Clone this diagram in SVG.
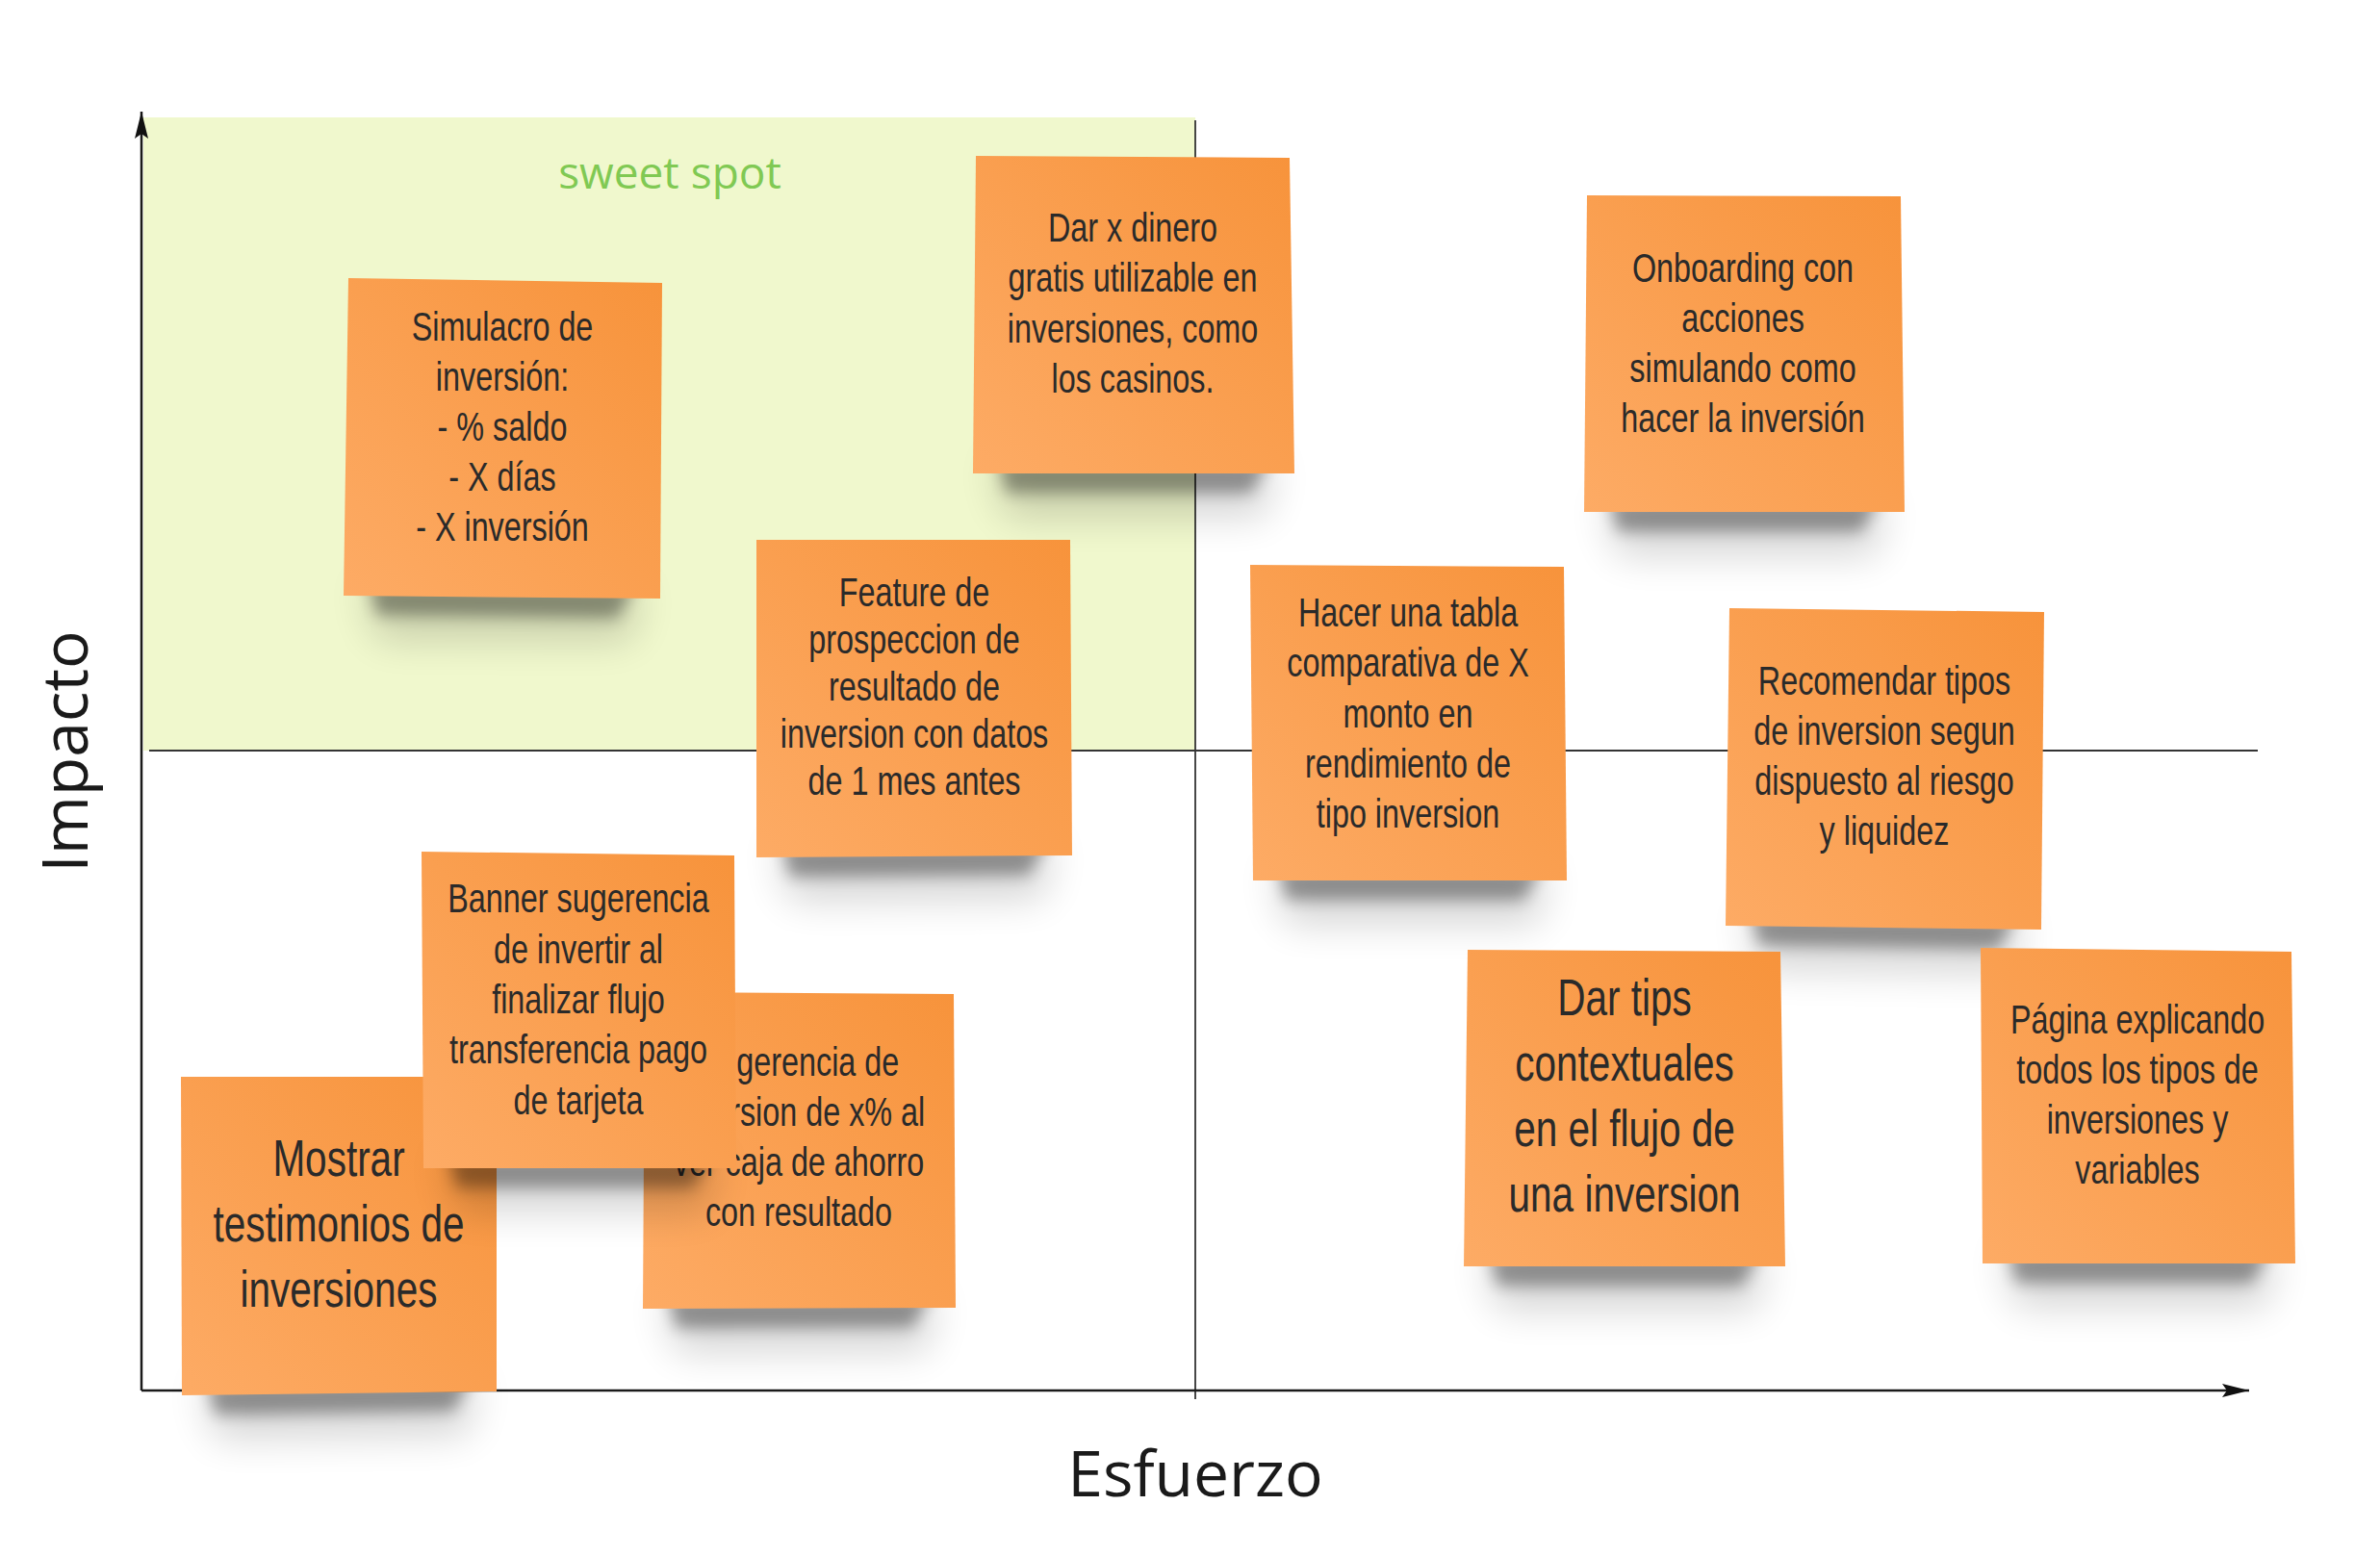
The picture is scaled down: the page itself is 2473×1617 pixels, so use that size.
<svg xmlns="http://www.w3.org/2000/svg" width="2473" height="1617" viewBox="0 0 2473 1617">
<style>
.note{fill:url(#og);}
.sh1{fill:#000;opacity:.36;filter:url(#b1);}
.sh2{fill:#000;opacity:.16;filter:url(#b2);}
.t{font-family:"Liberation Sans",Arial,sans-serif;font-size:42px;fill:#2a2a2a;text-anchor:middle;}
.tl{font-size:54px;}
.ax{stroke:#1a1a1a;stroke-width:2.5;fill:none;}
.mid{stroke:#333;stroke-width:1.8;fill:none;}
.lbl{font-family:"Open Sans","Liberation Sans",sans-serif;font-size:66px;fill:#1a1a1a;text-anchor:middle;}
.ss{font-family:"Open Sans","Liberation Sans",sans-serif;font-size:46px;fill:#80c953;text-anchor:middle;}
</style>
<defs>
<linearGradient id="og" x1="1" y1="0" x2="0" y2="1">
<stop offset="0" stop-color="#f7933b"/>
<stop offset="1" stop-color="#fdab65"/>
</linearGradient>
<filter id="b1" x="-20%" y="-80%" width="140%" height="260%"><feGaussianBlur stdDeviation="8"/></filter>
<filter id="b2" x="-20%" y="-80%" width="140%" height="260%"><feGaussianBlur stdDeviation="20"/></filter>
<marker id="ah" viewBox="0 0 28 14" refX="28" refY="7" markerWidth="28" markerHeight="14" markerUnits="userSpaceOnUse" orient="auto">
<path d="M0,0 L28,7 L0,14 L5,7 Z" fill="#111"/>
</marker>
</defs>
<rect x="0" y="0" width="2473" height="1617" fill="#ffffff"/>
<rect id="sweet-spot-area" x="149" y="122" width="1093" height="658" fill="#f0f8cd"/>
<text class="ss" x="696" y="196">sweet spot</text>
<g id="connectors">
<line class="mid" x1="1242" y1="125" x2="1242" y2="1454"/>
<line class="mid" x1="155" y1="780" x2="2346" y2="780"/>
<line class="ax" x1="147" y1="1445" x2="147" y2="116" marker-end="url(#ah)"/>
<line class="ax" x1="147" y1="1445" x2="2337" y2="1445" marker-end="url(#ah)"/>
</g>
<text class="lbl" transform="translate(91,781) rotate(-90)" x="0" y="0">Impacto</text>
<text class="lbl" x="1242" y="1555">Esfuerzo</text>

<g id="n-simulacro">
<polygon class="sh2" points="377,604 666,607 656,665 392,664"/>
<polygon class="sh1" points="382,605 661,608 641,642 392,639"/>
<polygon class="note" points="362,289 688,294 686,622 357,619"/>
<g transform="translate(522,0) scale(0.77,1)">
<text class="t" x="0" y="354">Simulacro de</text>
<text class="t" x="0" y="406">inversión:</text>
<text class="t" x="0" y="458">- % saldo</text>
<text class="t" x="0" y="510">- X días</text>
<text class="t" x="0" y="562">- X inversión</text>
</g>
</g>

<g id="n-dinero">
<polygon class="sh2" points="1031,477 1325,477 1315,537 1046,537"/>
<polygon class="sh1" points="1036,478 1320,478 1300,512 1046,512"/>
<polygon class="note" points="1014,162 1340,164 1345,492 1011,492"/>
<g transform="translate(1177,0) scale(0.77,1)">
<text class="t" x="0" y="251">Dar x dinero</text>
<text class="t" x="0" y="303">gratis utilizable en</text>
<text class="t" x="0" y="356">inversiones, como</text>
<text class="t" x="0" y="408">los casinos.</text>
</g>
</g>

<g id="n-onboarding">
<polygon class="sh2" points="1666,517 1959,517 1949,577 1681,577"/>
<polygon class="sh1" points="1671,518 1954,518 1934,552 1681,552"/>
<polygon class="note" points="1649,203 1975,204 1979,532 1646,532"/>
<g transform="translate(1811,0) scale(0.77,1)">
<text class="t" x="0" y="293">Onboarding con</text>
<text class="t" x="0" y="345">acciones</text>
<text class="t" x="0" y="397">simulando como</text>
<text class="t" x="0" y="449">hacer la inversión</text>
</g>
</g>

<g id="n-feature">
<polygon class="sh2" points="806,875 1094,874 1084,934 821,936"/>
<polygon class="sh1" points="811,876 1089,875 1069,909 821,911"/>
<polygon class="note" points="786,561 1112,561 1114,889 786,891"/>
<g transform="translate(950,0) scale(0.77,1)">
<text class="t" x="0" y="630">Feature de</text>
<text class="t" x="0" y="679">prospeccion de</text>
<text class="t" x="0" y="728">resultado de</text>
<text class="t" x="0" y="777">inversion con datos</text>
<text class="t" x="0" y="826">de 1 mes antes</text>
</g>
</g>

<g id="n-tabla">
<polygon class="sh2" points="1322,900 1608,900 1598,960 1337,960"/>
<polygon class="sh1" points="1327,901 1603,901 1583,935 1337,935"/>
<polygon class="note" points="1299,587 1625,589 1628,915 1302,915"/>
<g transform="translate(1463,0) scale(0.77,1)">
<text class="t" x="0" y="651">Hacer una tabla</text>
<text class="t" x="0" y="703">comparativa de X</text>
<text class="t" x="0" y="756">monto en</text>
<text class="t" x="0" y="808">rendimiento de</text>
<text class="t" x="0" y="860">tipo inversion</text>
</g>
</g>

<g id="n-recomendar">
<polygon class="sh2" points="1813,947 2101,951 2091,1011 1828,1007"/>
<polygon class="sh1" points="1818,948 2096,952 2076,986 1828,982"/>
<polygon class="note" points="1797,632 2124,636 2121,966 1793,962"/>
<g transform="translate(1958,0) scale(0.77,1)">
<text class="t" x="0" y="722">Recomendar tipos</text>
<text class="t" x="0" y="774">de inversion segun</text>
<text class="t" x="0" y="826">dispuesto al riesgo</text>
<text class="t" x="0" y="878">y liquidez</text>
</g>
</g>

<g id="n-mostrar">
<polygon class="sh2" points="209,1435 496,1431 486,1491 224,1495"/>
<polygon class="sh1" points="214,1436 491,1432 471,1466 224,1470"/>
<polygon class="note" points="188,1119 516,1119 516,1446 189,1450"/>
<g transform="translate(352,0) scale(0.75,1)">
<text class="t tl" x="0" y="1222">Mostrar</text>
<text class="t tl" x="0" y="1290">testimonios de</text>
<text class="t tl" x="0" y="1358">inversiones</text>
</g>
</g>

<g id="n-sugerencia">
<polygon class="sh2" points="688,1345 973,1344 963,1404 703,1405"/>
<polygon class="sh1" points="693,1346 968,1345 948,1379 703,1380"/>
<polygon class="note" points="670,1031 991,1033 993,1359 668,1360"/>
<g transform="translate(830,0) scale(0.77,1)">
<text class="t" x="0" y="1118">Sugerencia de</text>
<text class="t" x="0" y="1170">inversion de x% al</text>
<text class="t" x="0" y="1222">ver caja de ahorro</text>
<text class="t" x="0" y="1274">con resultado</text>
</g>
</g>

<g id="n-banner">
<polygon class="sh2" points="460,1199 745,1199 735,1259 475,1259"/>
<polygon class="sh1" points="465,1200 740,1200 720,1234 475,1234"/>
<polygon class="note" points="438,885 763,889 765,1214 440,1214"/>
<g transform="translate(601,0) scale(0.77,1)">
<text class="t" x="0" y="948">Banner sugerencia</text>
<text class="t" x="0" y="1001">de invertir al</text>
<text class="t" x="0" y="1053">finalizar flujo</text>
<text class="t" x="0" y="1105">transferencia pago</text>
<text class="t" x="0" y="1158">de tarjeta</text>
</g>
</g>

<g id="n-tips">
<polygon class="sh2" points="1541,1301 1835,1301 1825,1361 1556,1361"/>
<polygon class="sh1" points="1546,1302 1830,1302 1810,1336 1556,1336"/>
<polygon class="note" points="1525,987 1850,989 1855,1316 1521,1316"/>
<g transform="translate(1688,0) scale(0.75,1)">
<text class="t tl" x="0" y="1055">Dar tips</text>
<text class="t tl" x="0" y="1123">contextuales</text>
<text class="t tl" x="0" y="1191">en el flujo de</text>
<text class="t tl" x="0" y="1259">una inversion</text>
</g>
</g>

<g id="n-pagina">
<polygon class="sh2" points="2080,1298 2365,1298 2355,1358 2095,1358"/>
<polygon class="sh1" points="2085,1299 2360,1299 2340,1333 2095,1333"/>
<polygon class="note" points="2058,985 2381,989 2385,1313 2060,1313"/>
<g transform="translate(2221,0) scale(0.77,1)">
<text class="t" x="0" y="1074">Página explicando</text>
<text class="t" x="0" y="1126">todos los tipos de</text>
<text class="t" x="0" y="1178">inversiones y</text>
<text class="t" x="0" y="1230">variables</text>
</g>
</g>
</svg>
